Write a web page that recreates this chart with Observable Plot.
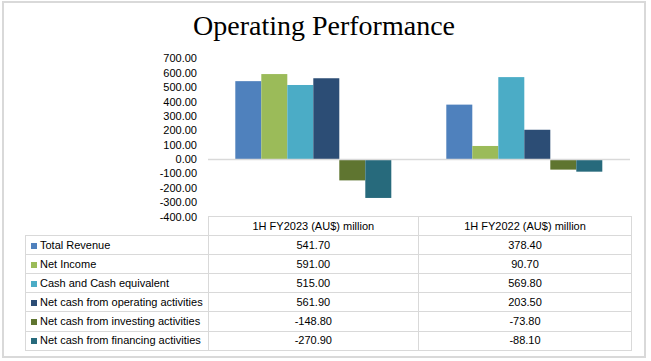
<!DOCTYPE html>
<html>
<head>
<meta charset="utf-8">
<script src="https://cdn.jsdelivr.net/npm/d3@7"></script>
<script src="https://cdn.jsdelivr.net/npm/@observablehq/plot@0.6"></script>
<style>
  html, body { margin: 0; padding: 0; background: #fff; }
  #wrap { position: relative; width: 651px; height: 361px; overflow: hidden; background: #fff; }
  #frame { position: absolute; left: 2px; top: 1px; width: 644px; height: 357px; box-sizing: border-box; border: 2px solid #d9d9d9; }
  #title { position: absolute; left: 0; top: 11.5px; width: 648px; text-align: center; font-family: "Liberation Serif", serif; font-size: 28px; line-height: 28px; color: #000; }
  #chart { position: absolute; left: 0; top: 0; }
  #chart svg { background: transparent !important; }
  table { position: absolute; left: 25px; top: 216px; border-collapse: collapse; table-layout: fixed; width: 606px; font-family: "Liberation Sans", Arial, sans-serif; font-size: 11px; color: #000; }
  td { border: 1px solid #d9d9d9; height: 18.1px; padding: 0; line-height: 17px; text-align: center; white-space: nowrap; overflow: hidden; }
  td.lab { text-align: left; padding-left: 5px; }
  td.blank { border-top: none; border-left: none; }
  .sw { display: inline-block; width: 6px; height: 6px; margin-right: 3px; vertical-align: 0px; }
</style>
</head>
<body>
<div id="wrap">
  <div id="frame"></div>
  <div id="title">Operating Performance</div>
  <div id="chart"></div>
</div>
<script>
const categories = ["1H FY2023 (AU$) million", "1H FY2022 (AU$) million"];
const series = [
  "Total Revenue",
  "Net Income",
  "Cash and Cash equivalent",
  "Net cash from operating activities",
  "Net cash from investing activities",
  "Net cash from financing activities"
];
const fy2023 = [541.70, 591.00, 515.00, 561.90, -148.80, -270.90];
const fy2022 = [378.40, 90.70, 569.80, 203.50, -73.80, -88.10];
const colors = ["#4F81BD", "#9BBB59", "#4BACC6", "#2C4D75", "#5F7530", "#276A7C"];
const yTicks = [-400, -300, -200, -100, 0, 100, 200, 300, 400, 500, 600, 700];

const valuesByCategory = [fy2023, fy2022];
const data = [];
categories.forEach((c, ci) => {
  series.forEach((s, si) => data.push({category: c, series: s, value: valuesByCategory[ci][si]}));
});

const chart = Plot.plot({
  width: 651,
  height: 225,
  marginLeft: 207.7,
  marginRight: 20,
  marginTop: 58.4,
  marginBottom: 8.5,
  style: {fontFamily: "Liberation Sans, Arial, sans-serif", fontSize: "11px", color: "#000", background: "transparent"},
  fx: {domain: categories, padding: 0, axis: null},
  x: {domain: series, paddingInner: 0, paddingOuter: 0.98, axis: null},
  y: {domain: [-400, 700], ticks: yTicks, tickFormat: d => d.toFixed(2), tickSize: 0, tickPadding: 11.5, label: null},
  color: {domain: series, range: colors},
  marks: [
    Plot.barY(data, {fx: "category", x: "series", y: "value", fill: "series"}),
    Plot.ruleY([0], {stroke: "#d9d9d9", strokeWidth: 1.5})
  ]
});
document.getElementById("chart").appendChild(chart);

// data table below the chart
const table = document.createElement("table");
const cg = document.createElement("colgroup");
[182.7, 210.3, 213].forEach(w => { const col = document.createElement("col"); col.style.width = w + "px"; cg.appendChild(col); });
table.appendChild(cg);
const hr = document.createElement("tr");
const blank = document.createElement("td"); blank.className = "blank"; hr.appendChild(blank);
categories.forEach(c => { const td = document.createElement("td"); td.textContent = c; hr.appendChild(td); });
table.appendChild(hr);
series.forEach((s, si) => {
  const tr = document.createElement("tr");
  const lab = document.createElement("td"); lab.className = "lab";
  const sw = document.createElement("span"); sw.className = "sw"; sw.style.background = colors[si];
  lab.appendChild(sw); lab.appendChild(document.createTextNode(s));
  tr.appendChild(lab);
  valuesByCategory.forEach(vals => { const td = document.createElement("td"); td.textContent = vals[si].toFixed(2); tr.appendChild(td); });
  table.appendChild(tr);
});
document.getElementById("wrap").appendChild(table);
</script>
</body>
</html>
